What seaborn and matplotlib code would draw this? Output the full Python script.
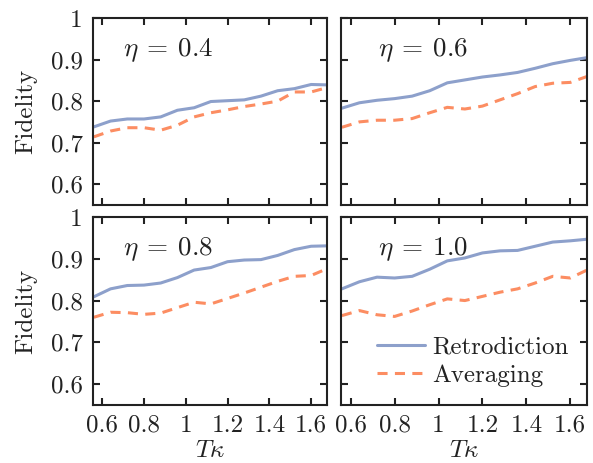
import numpy as np
import pandas as pd
import matplotlib
matplotlib.use("Agg")
import matplotlib.pyplot as plt
import seaborn as sns

sns.set_style("ticks")
plt.rcParams["font.family"] = ["cmr10", "DejaVu Serif"]
plt.rcParams["mathtext.fontset"] = "cm"
plt.rcParams["axes.formatter.use_mathtext"] = True

# ---- data ----
t_kappa = [0.56, 0.64, 0.72, 0.80, 0.88, 0.96, 1.04, 1.12, 1.20, 1.28, 1.36, 1.44, 1.52, 1.60, 1.68]
etas = ["0.4", "0.6", "0.8", "1.0"]
retro_04 = [0.738, 0.752, 0.757, 0.757, 0.762, 0.778, 0.784, 0.799, 0.801, 0.803, 0.812, 0.825, 0.830, 0.840, 0.839]
avg_04 = [0.714, 0.728, 0.736, 0.736, 0.730, 0.742, 0.762, 0.772, 0.779, 0.787, 0.793, 0.800, 0.822, 0.822, 0.833]
retro_06 = [0.783, 0.796, 0.802, 0.806, 0.812, 0.825, 0.844, 0.851, 0.858, 0.863, 0.869, 0.879, 0.890, 0.898, 0.905]
avg_06 = [0.737, 0.750, 0.754, 0.754, 0.758, 0.772, 0.785, 0.781, 0.788, 0.803, 0.818, 0.835, 0.843, 0.845, 0.860]
retro_08 = [0.809, 0.828, 0.836, 0.837, 0.842, 0.855, 0.873, 0.879, 0.893, 0.897, 0.898, 0.908, 0.922, 0.930, 0.931]
avg_08 = [0.760, 0.772, 0.771, 0.767, 0.770, 0.783, 0.796, 0.792, 0.805, 0.818, 0.832, 0.846, 0.858, 0.860, 0.877]
retro_10 = [0.828, 0.845, 0.856, 0.854, 0.858, 0.875, 0.895, 0.902, 0.914, 0.919, 0.920, 0.930, 0.940, 0.943, 0.947]
avg_10 = [0.764, 0.776, 0.766, 0.762, 0.775, 0.790, 0.804, 0.800, 0.810, 0.820, 0.828, 0.842, 0.858, 0.854, 0.874]
retro = [retro_04, retro_06, retro_08, retro_10]
avg = [avg_04, avg_06, avg_08, avg_10]
x_ticks = [0.6, 0.8, 1.0, 1.2, 1.4, 1.6]
x_tick_labels = ["0.6", "0.8", "1", "1.2", "1.4", "1.6"]
y_ticks = [0.6, 0.7, 0.8, 0.9, 1.0]
y_tick_labels = ["0.6", "0.7", "0.8", "0.9", "1"]

BLUE = "#8da0cb"
ORANGE = "#fc8d62"
INK = "#222222"
W, H = 593, 463
fig = plt.figure(figsize=(W / 100, H / 100), dpi=100)

cols = [(93, 327), (341, 587)]
rows = [(18, 205), (217, 405)]

for i, eta in enumerate(etas):
    r, c = divmod(i, 2)
    x0, x1 = cols[c]
    y0, y1 = rows[r]
    ax = fig.add_axes([x0 / W, 1 - y1 / H, (x1 - x0) / W, (y1 - y0) / H])
    df = pd.DataFrame({"x": t_kappa, "Retrodiction": retro[i], "Averaging": avg[i]})
    sns.lineplot(data=df, x="x", y="Retrodiction", ax=ax, color=BLUE, lw=2.2,
                 label="Retrodiction", legend=False)
    sns.lineplot(data=df, x="x", y="Averaging", ax=ax, color=ORANGE, lw=2.2,
                 ls=(0, (3.3, 2.4)), label="Averaging", legend=False)
    for ln in ax.get_lines():
        ln.set_solid_joinstyle("round")
        ln.set_dash_joinstyle("round")
    ax.set_xlim(0.556, 1.676)
    ax.set_ylim(0.55, 1.0)
    ax.set_xticks(x_ticks)
    ax.set_yticks(y_ticks)
    ax.tick_params(direction="in", top=True, right=True, length=5, width=1.5,
                   labelsize=18, color=INK, labelcolor=INK)
    ax.tick_params(axis="x", pad=7)
    ax.tick_params(axis="y", pad=7.5)
    if c == 0:
        ax.set_yticklabels(y_tick_labels)
        ax.set_ylabel("Fidelity", fontsize=18, color=INK)
        ax.yaxis.set_label_coords(-0.239, 0.5)
    else:
        ax.set_yticklabels([])
        ax.set_ylabel("")
    if r == 1:
        ax.set_xticklabels(x_tick_labels)
        ax.set_xlabel(r"$T\kappa$", fontsize=18, color=INK)
        ax.xaxis.set_label_coords(0.5, -0.185)
    else:
        ax.set_xticklabels([])
        ax.set_xlabel("")
    for s in ax.spines.values():
        s.set_linewidth(1.5)
        s.set_color(INK)
    ax.text(0.128 if c == 0 else 0.15, 0.83, r"$\eta\:{=}\:%s$" % eta, transform=ax.transAxes,
            fontsize=19.5, va="center", ha="left", color=INK)
    if i == 3:
        ax.legend(loc="lower right", frameon=False, fontsize=18, handlelength=1.9,
                  handletextpad=0.3, borderaxespad=0, borderpad=0, labelspacing=0.25,
                  bbox_to_anchor=(0.925, 0.095), labelcolor=INK)

fig.savefig("out.png", dpi=100)
